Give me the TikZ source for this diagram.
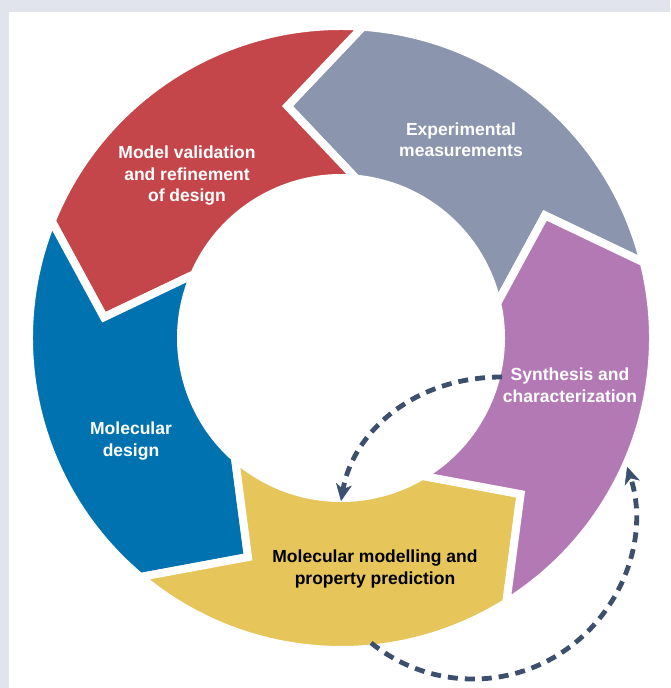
\documentclass[tikz,border=0pt]{standalone}
\usepackage{fontspec}
\setsansfont{Liberation Sans}
\usetikzlibrary{arrows.meta}

\definecolor{framegray}{HTML}{E1E4ED}
\definecolor{cyclegray}{HTML}{8B95AD}
\definecolor{cyclered}{HTML}{C5464A}
\definecolor{cycleblue}{HTML}{0072B0}
\definecolor{cycleyellow}{HTML}{E6C55A}
\definecolor{cyclepurple}{HTML}{B379B4}
\definecolor{loopnavy}{HTML}{3D4F6E}

\tikzset{
  ringpart/.style={draw=white, line width=8pt},
  partlabel/.style={font=\sffamily\bfseries\fontsize{17.5}{21.5}\selectfont,
    align=center, text=white},
  loopback/.style={draw=loopnavy, line width=4.8pt, dash pattern=on 10pt off 7pt,
    -{Stealth[length=17pt, width=16pt, inset=5pt, line width=0.5pt]}}
}

\begin{document}
\begin{tikzpicture}[x=1pt, y=1pt]
\useasboundingbox (0,0) rectangle (670,688);
\fill[framegray] (0,0) rectangle (670,688);
\fill[white] (9,0) rectangle (670,676);

\coordinate (hub) at (341,350);

% five arrow segments of the ring, each one points to the next (ccw)
\foreach \a/\col in {14/cyclegray, 86/cyclered, 158/cycleblue, 230/cycleyellow, 302/cyclepurple}{
  \pgfmathsetmacro\b{\a+72}
  \path[ringpart, fill=\col, shift={(hub)}]
    (\a:312) -- (\a+17:238) -- (\a-1.5:160)
    arc[start angle=\a-1.5, end angle=\b-1.5, radius=160]
    -- (\b+17:238) -- (\b:312)
    arc[start angle=\b, end angle=\a, radius=312] -- cycle;
}

% feedback loops between synthesis and modelling
\coordinate (synth out) at (502,311);
\coordinate (model in) at (341,187);
\coordinate (model out) at (371.1,45.1);
\coordinate (loop low) at (564.8,37.5);
\coordinate (synth in) at (627.1,221.1);

\draw[loopback] (synth out) .. controls +(-89,0) and +(12,68) .. (model in);
\draw[loopback] (model out) .. controls +(-39:71.8) and +(214.5:71.8) .. (loop low)
  .. controls +(34.5:71.8) and +(-72:71.8) .. (synth in);

\node[partlabel] (validation) at (187,512) {Model validation\\and refinement\\of design};
\node[partlabel] (experiment) at (461,548) {Experimental\\measurements};
\node[partlabel] (synthesis) at (570,303) {Synthesis and\\characterization};
\node[partlabel] (design) at (131,247) {Molecular\\design};
\node[partlabel, text=black] (modelling) at (375,119) {Molecular modelling and\\property prediction};
\end{tikzpicture}
\end{document}
